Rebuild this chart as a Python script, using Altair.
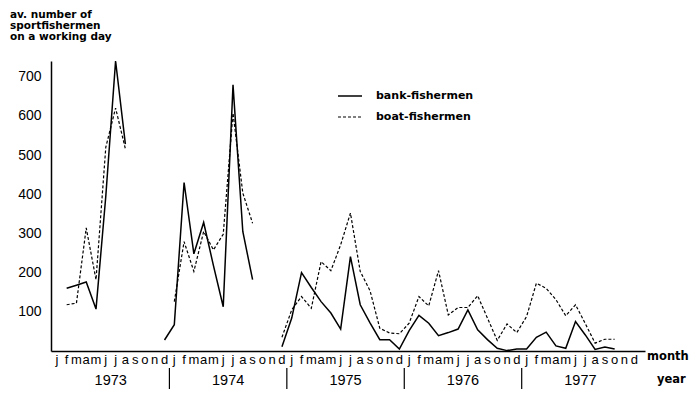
import altair as alt
import pandas as pd

MONTH_LETTERS = ["j", "f", "m", "a", "m", "j", "j", "a", "s", "o", "n", "d"]
YEARS = ["1973", "1974", "1975", "1976", "1977"]
Y_TICKS = [100, 200, 300, 400, 500, 600, 700]

# av. number of sportfishermen on a working day, Jan 1973 .. Dec 1977 (None = no data)
BANK = [
    None, 160, 168, 176, 107, 395, 740, 528, None, None, None, 28,   # 1973
    67, 430, 248, 328, 218, 113, 679, 305, 182, None, None, 11,      # 1974
    84, 200, 162, 126, 97, 56, 241, 118, 72, 29, 29, 5,              # 1975
    52, 91, 71, 39, 47, 56, 105, 54, 29, 7, 1, 5,                    # 1976
    5, 35, 48, 13, 7, 75, 41, 4, 10, 5, None, None,                  # 1977
]
BOAT = [
    None, 118, 122, 314, 182, 520, 620, 516, None, None, None, None, # 1973
    126, 279, 203, 305, 258, 298, 607, 403, 326, None, None, 35,     # 1974
    105, 139, 109, 228, 205, 271, 352, 203, 154, 58, 46, 44,         # 1975
    71, 139, 115, 205, 92, 111, 111, 141, 84, 27, 69, 47,            # 1976
    88, 173, 160, 131, 90, 118, 70, 20, 30, 30, None, None,          # 1977
]
YEAR_BOUNDARIES = [12, 24, 36, 48]


def to_segments(values):
    rows, seg, prev_none = [], 0, True
    for i, v in enumerate(values):
        if v is None:
            prev_none = True
            continue
        if prev_none:
            seg += 1
            prev_none = False
        rows.append({"pos": i + 0.5, "value": v, "seg": seg})
    return pd.DataFrame(rows)


bank_df = to_segments(BANK)
boat_df = to_segments(BOAT)
months_df = pd.DataFrame({"pos": [i + 0.5 for i in range(60)],
                          "txt": [MONTH_LETTERS[i % 12] for i in range(60)]})
years_df = pd.DataFrame({"pos": [i * 12 + 6 for i in range(len(YEARS))], "txt": YEARS})
bounds_df = pd.DataFrame({"pos": YEAR_BOUNDARIES})

xscale = alt.Scale(domain=[-0.1, 60.6], nice=False, zero=False)
yscale = alt.Scale(domain=[0, 740], nice=False)

x_enc = alt.X("pos:Q", scale=xscale,
              axis=alt.Axis(labels=False, ticks=False, grid=False, title=None,
                            domainColor="black", domainWidth=1.5))
y_enc = alt.Y("value:Q", scale=yscale,
              axis=alt.Axis(values=Y_TICKS, ticks=False, grid=False, title=None,
                            labelFontSize=14, labelPadding=10, labelColor="black",
                            labelFont="Liberation Sans",
                            domainColor="black", domainWidth=1.5))

bank_line = alt.Chart(bank_df).mark_line(color="black", strokeWidth=1.5).encode(
    x=x_enc, y=y_enc, detail="seg:N")
boat_line = alt.Chart(boat_df).mark_line(color="black", strokeWidth=1.2,
                                         strokeDash=[3, 2]).encode(
    x=alt.X("pos:Q", scale=xscale), y=alt.Y("value:Q", scale=yscale), detail="seg:N")

month_text = alt.Chart(months_df).mark_text(
    fontSize=13, font="Liberation Sans", color="black", baseline="middle").encode(
    x=alt.X("pos:Q", scale=xscale), y=alt.value(299), text="txt:N")
year_text = alt.Chart(years_df).mark_text(
    fontSize=14.5, font="Liberation Sans", color="black", baseline="middle").encode(
    x=alt.X("pos:Q", scale=xscale), y=alt.value(320), text="txt:N")
dividers = alt.Chart(bounds_df).mark_rule(color="black", strokeWidth=1.2).encode(
    x=alt.X("pos:Q", scale=xscale), y=alt.value(307), y2=alt.value(329))

one = alt.Data(values=[{}])
title_text = alt.Chart(one).mark_text(
    text="av. number of\nsportfishermen\non a working day", lineBreak="\n",
    lineHeight=11, fontSize=10.5, font="DejaVu Sans", fontWeight="bold",
    align="left", baseline="middle", color="black").encode(
    x=alt.value(-41), y=alt.value(-46))
month_lbl = alt.Chart(one).mark_text(
    text="month", fontSize=11.5, font="DejaVu Sans", fontWeight="bold",
    align="left", baseline="middle", color="black").encode(
    x=alt.value(596), y=alt.value(296))
year_lbl = alt.Chart(one).mark_text(
    text="year", fontSize=11.5, font="DejaVu Sans", fontWeight="bold",
    align="left", baseline="middle", color="black").encode(
    x=alt.value(606), y=alt.value(319))

leg_solid = alt.Chart(one).mark_rule(color="black", strokeWidth=1.5).encode(
    x=alt.value(287), x2=alt.value(311), y=alt.value(35))
leg_dash = alt.Chart(one).mark_rule(color="black", strokeWidth=1.2,
                                    strokeDash=[3, 2]).encode(
    x=alt.value(287), x2=alt.value(311), y=alt.value(56))
leg_t1 = alt.Chart(one).mark_text(
    text="bank-fishermen", fontSize=11, font="DejaVu Sans", fontWeight="bold",
    align="left", baseline="middle", color="black").encode(
    x=alt.value(325), y=alt.value(35))
leg_t2 = alt.Chart(one).mark_text(
    text="boat-fishermen", fontSize=11, font="DejaVu Sans", fontWeight="bold",
    align="left", baseline="middle", color="black").encode(
    x=alt.value(325), y=alt.value(56))

chart = alt.layer(
    bank_line, boat_line, month_text, year_text, dividers, title_text,
    month_lbl, year_lbl, leg_solid, leg_dash, leg_t1, leg_t2
).properties(
    width=594, height=290,
    autosize=alt.AutoSizeParams(type="none"),
    padding={"left": 43, "top": 53, "right": 47, "bottom": 38},
    background="white",
).configure_view(stroke=None)

chart.save("out.html", embed_options={"renderer": "svg", "actions": False})
